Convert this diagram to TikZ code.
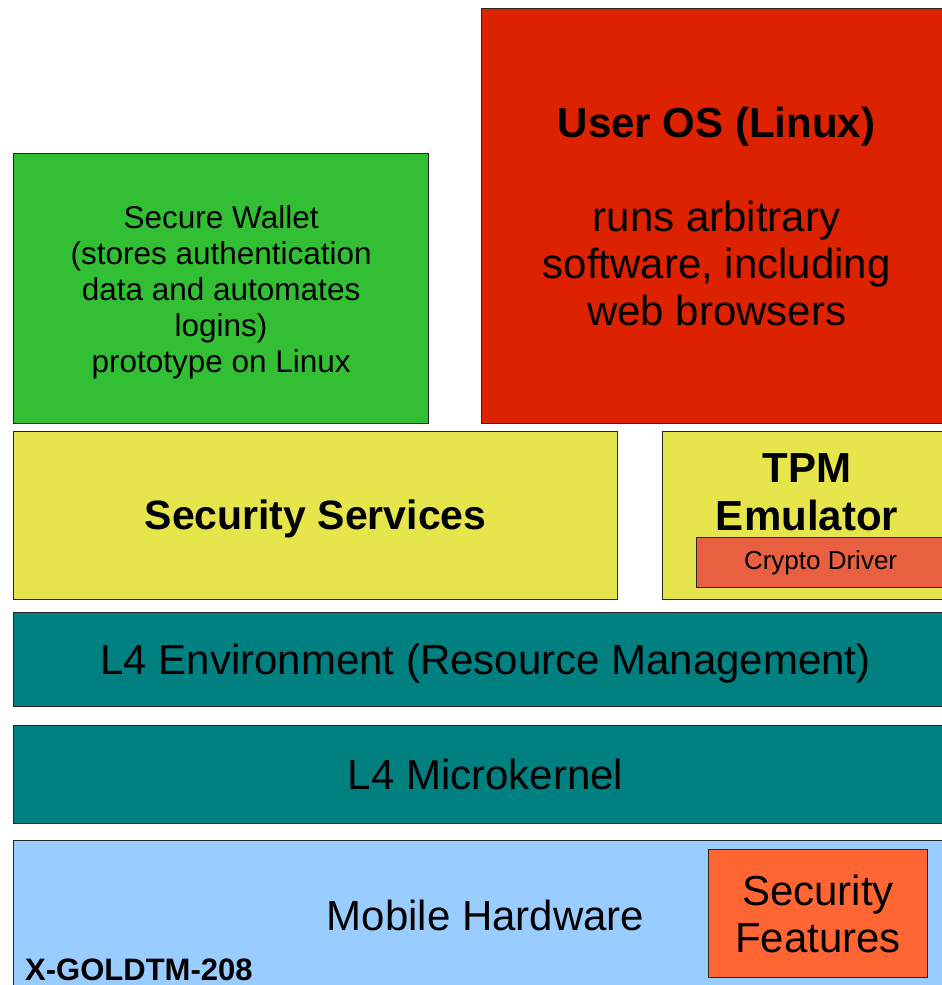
\documentclass[tikz,border=0pt]{standalone}
\usepackage{fontspec}
\setmainfont{Liberation Sans}
\usetikzlibrary{positioning}

\definecolor{walletgreen}{HTML}{33BF33}
\definecolor{osred}{HTML}{DD2200}
\definecolor{srvyellow}{HTML}{E6E64C}
\definecolor{cryptored}{HTML}{E8603F}
\definecolor{lfourteal}{HTML}{008080}
\definecolor{hwblue}{HTML}{99CCFF}
\definecolor{featorange}{HTML}{FF6633}

\tikzset{
  layer/.style={draw=black!85, line width=1.2pt, inner sep=0pt, anchor=north west, align=center},
  bigtext/.style={font=\fontsize{42}{47}\selectfont},
  midtext/.style={font=\fontsize{31.5}{36}\selectfont},
}

\begin{document}
\begin{tikzpicture}[x=1pt,y=-1pt]
  \useasboundingbox (0,0) rectangle (942,985);
  \clip (0,0) rectangle (942,985);
  \node[layer,midtext,fill=walletgreen,minimum width=415pt,minimum height=270pt] (wallet) at (13,153)
    {\rule{0pt}{30pt}Secure Wallet\\(stores authentication\\data and automates\\logins)\\prototype on Linux};
  \node[layer,bigtext,fill=osred,minimum width=470pt,minimum height=415pt] (useros) at (481,8)
    {\textbf{User OS (Linux)}\\[47pt]runs arbitrary\\software, including\\web browsers};
  \node[layer,font=\fontsize{41}{47}\selectfont\bfseries,fill=srvyellow,minimum width=604pt,minimum height=168pt,text height=36pt] (secsrv) at (13,431)
    {Security Services};
  \node[layer,fill=srvyellow,minimum width=290pt,minimum height=168pt] (tpm) at (662,431) {};
  \node[align=center,font=\fontsize{42}{48}\selectfont\bfseries,inner sep=0pt] (tpmlabel) at (807,492) {TPM\\Emulator};
  \node[layer,font=\fontsize{26}{30}\selectfont,fill=cryptored,minimum width=248pt,minimum height=50pt] (crypto) at (696,537)
    {Crypto Driver};
  \node[layer,bigtext,fill=lfourteal,minimum width=944pt,minimum height=94pt,text height=38pt] (l4env) at (13,612)
    {L4 Environment (Resource Management)};
  \node[layer,bigtext,fill=lfourteal,minimum width=944pt,minimum height=98pt] (l4mk) at (13,725)
    {L4 Microkernel};
  \node[layer,bigtext,fill=hwblue,minimum width=944pt,minimum height=150pt] (mobile) at (13,840)
    {Mobile Hardware};
  \node[layer,bigtext,fill=featorange,minimum width=219pt,minimum height=128pt] (secfeat) at (708,849)
    {Security\\Features};
  \node[anchor=base west,inner sep=0pt,font=\fontsize{31}{36}\selectfont\bfseries] (xgold) at (25,980) {X-GOLDTM-208};
\end{tikzpicture}
\end{document}
